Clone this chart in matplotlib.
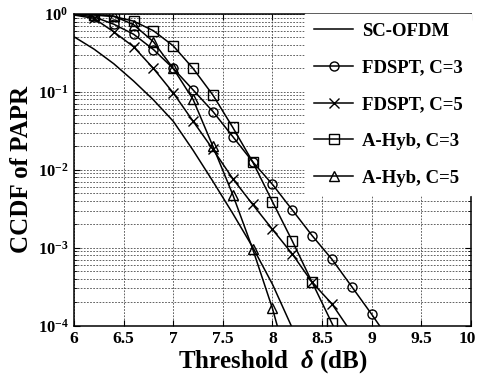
import matplotlib
matplotlib.use("Agg")

import matplotlib.pyplot as plt
import matplotlib.transforms as mtransforms
import numpy as np
from matplotlib.ticker import LogLocator, NullFormatter, FixedLocator

# ===========================================
# DATA
# ===========================================

threshold = [6.0, 6.2, 6.4, 6.6, 6.8, 7.0, 7.2, 7.4, 7.6, 7.8,
             8.0, 8.2, 8.4, 8.6, 8.8, 9.0, 9.2]

sc_ofdm = [0.51, 0.355, 0.23, 0.138, 0.079, 0.042, 0.0178, 0.0071,
           0.00275, 0.00102, 0.00034, 0.000093]

fdspt_c3 = [0.99, 0.92, 0.74, 0.55, 0.35, 0.20, 0.106, 0.056, 0.0267,
            0.0127, 0.0065, 0.00305, 0.00143, 0.00071, 0.000316,
            0.00014, 0.00006]

fdspt_c5 = [0.97, 0.88, 0.59, 0.38, 0.20, 0.097, 0.042, 0.0183, 0.0077,
            0.0036, 0.00172, 0.00083, 0.00036, 0.00019, 0.00008]

ahyb_c3 = [0.995, 0.97, 0.93, 0.81, 0.61, 0.39, 0.20, 0.091, 0.035,
           0.0127, 0.0039, 0.00122, 0.00036, 0.000107, 0.00003]

ahyb_c5 = [0.995, 0.98, 0.94, 0.73, 0.44, 0.20, 0.080, 0.020, 0.0048,
           0.00097, 0.000166, 0.00002]

x_ticks = [6, 6.5, 7, 7.5, 8, 8.5, 9, 9.5, 10]
x_tick_labels = ["6", "6.5", "7", "7.5", "8", "8.5", "9", "9.5", "10"]
y_ticks = [1e-4, 1e-3, 1e-2, 1e-1, 1e0]
y_tick_labels = [r"$\mathbf{10^{-4}}$", r"$\mathbf{10^{-3}}$",
                 r"$\mathbf{10^{-2}}$", r"$\mathbf{10^{-1}}$",
                 r"$\mathbf{10^{0}}$"]

# ===========================================
# STYLE
# ===========================================

plt.rcParams["font.family"] = ["Liberation Serif", "DejaVu Serif"]
plt.rcParams["font.weight"] = "bold"
plt.rcParams["mathtext.fontset"] = "custom"
plt.rcParams["mathtext.rm"] = "Liberation Serif:bold"
plt.rcParams["mathtext.bf"] = "Liberation Serif:bold"
plt.rcParams["mathtext.it"] = "Liberation Serif:italic"

fig = plt.figure(figsize=(4.78, 3.84), dpi=100)
ax = fig.add_axes([0.155, 0.152, 0.830, 0.8115])

line_kw = dict(color="black", linewidth=1.1, markersize=6.5,
               markerfacecolor="none", markeredgewidth=1.0,
               markevery=slice(1, None))

ax.plot(threshold[:len(sc_ofdm)], sc_ofdm, label="SC-OFDM", **line_kw)
ax.plot(threshold[:len(fdspt_c3)], fdspt_c3, marker="o",
        label="FDSPT, C=3", **line_kw)
ax.plot(threshold[:len(fdspt_c5)], fdspt_c5, marker="x",
        label="FDSPT, C=5", **line_kw)
ax.plot(threshold[:len(ahyb_c3)], ahyb_c3, marker="s",
        label="A-Hyb, C=3", **line_kw)
ax.plot(threshold[:len(ahyb_c5)], ahyb_c5, marker="^",
        label="A-Hyb, C=5", **line_kw)

ax.set_yscale("log")
ax.set_xlim(6, 10)
ax.set_ylim(1e-4, 1)

ax.xaxis.set_major_locator(FixedLocator(x_ticks))
ax.set_xticklabels(x_tick_labels)
ax.yaxis.set_major_locator(FixedLocator(y_ticks))
ax.set_yticklabels(y_tick_labels)
ax.yaxis.set_minor_locator(LogLocator(base=10, subs=np.arange(2, 10)))
ax.yaxis.set_minor_formatter(NullFormatter())

ax.tick_params(which="both", direction="in", top=True, right=True)
ax.tick_params(axis="x", labelsize=12.5)
ax.tick_params(axis="y", labelsize=12)
ax.tick_params(which="major", length=4, width=0.8, pad=4)
ax.tick_params(which="minor", length=2.5, width=0.6)

# last x label sits on the figure edge, nudge it inward a few pixels
last = ax.get_xticklabels()[-1]
last.set_transform(last.get_transform() +
                   mtransforms.ScaledTranslation(-4 / 100, 0,
                                                 fig.dpi_scale_trans))

grid_kw = dict(linestyle=(0, (2.5, 2)), color="0.15", linewidth=0.5)
ax.grid(True, which="major", **grid_kw)
ax.grid(True, which="minor", axis="y", **grid_kw)

for spine in ax.spines.values():
    spine.set_linewidth(1.1)

ax.set_xlabel(r"Threshold  $\delta$ (dB)", fontsize=18, fontweight="bold",
              labelpad=1)
ax.set_ylabel("CCDF of PAPR", fontsize=18, fontweight="bold", labelpad=3)

legend = ax.legend(loc="upper right", fontsize=13.5, borderaxespad=0,
                   frameon=True, fancybox=False, framealpha=1,
                   edgecolor="white", labelspacing=1.05, handlelength=2.1,
                   handletextpad=0.45, borderpad=0.45)

fig.savefig("out.png", dpi=100)
